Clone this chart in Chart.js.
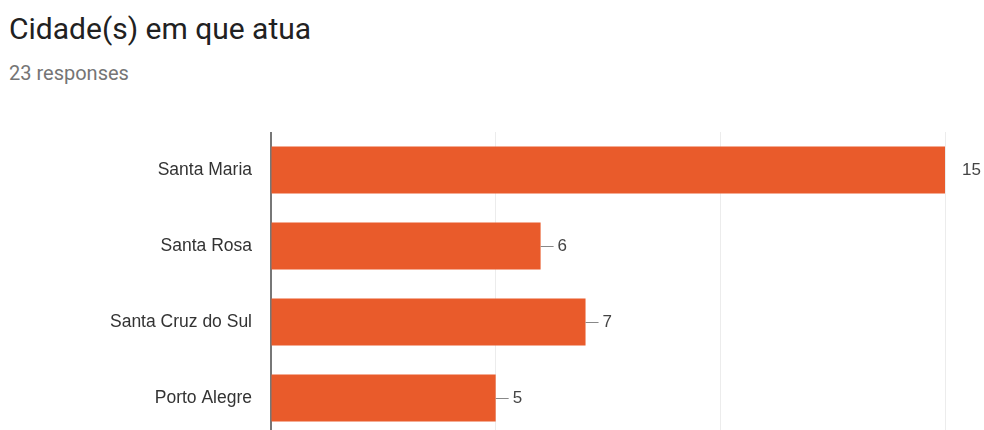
<!DOCTYPE html>
<html>
<head>
<meta charset="utf-8">
<script src="https://cdn.jsdelivr.net/npm/chart.js@4"></script>
<style>
  html, body { margin: 0; padding: 0; background: #fff; overflow: hidden; width: 984px; height: 430px; }
  #title { position: absolute; left: 9px; top: 11px; font-family: Roboto, sans-serif; font-size: 30px; color: #212121; }
  #sub { position: absolute; left: 9px; top: 61px; font-family: Roboto, sans-serif; font-size: 20px; color: #757575; }
  #chart { position: absolute; left: 0; top: 132px; }
</style>
</head>
<body>
<div id="title">Cidade(s) em que atua</div>
<div id="sub">23 responses</div>
<canvas id="chart" width="984" height="304"></canvas>
<script>
const cities = ["Santa Maria", "Santa Rosa", "Santa Cruz do Sul", "Porto Alegre"];
const counts = [15, 6, 7, 5];
const xTicks = [0, 5, 10, 15];

// value labels with a short leader line, like the forms chart
const valueLabels = {
  id: "valueLabels",
  afterDatasetsDraw(chart) {
    const ctx = chart.ctx;
    const meta = chart.getDatasetMeta(0);
    ctx.save();
    ctx.font = "17px 'Liberation Sans', Arial, sans-serif";
    ctx.fillStyle = "#444";
    ctx.textBaseline = "middle";
    meta.data.forEach((bar, i) => {
      let end = bar.x;
      if (end < chart.chartArea.right - 1) {
        ctx.strokeStyle = "#888";
        ctx.lineWidth = 1;
        ctx.beginPath();
        ctx.moveTo(end, bar.y + 0.5);
        ctx.lineTo(end + 13, bar.y + 0.5);
        ctx.stroke();
      }
      ctx.fillText(String(counts[i]), end + 17, bar.y);
    });
    ctx.restore();
  }
};

new Chart(document.getElementById("chart"), {
  type: "bar",
  data: {
    labels: cities,
    datasets: [{
      data: counts,
      backgroundColor: "#e95b2b",
      barPercentage: 0.62,
      categoryPercentage: 1
    }]
  },
  options: {
    indexAxis: "y",
    responsive: false,
    animation: false,
    layout: { padding: { left: 0, right: 39, top: 0, bottom: 0 } },
    plugins: { legend: { display: false }, tooltip: { enabled: false } },
    scales: {
      x: {
        min: 0,
        max: 15,
        afterBuildTicks: (axis) => { axis.ticks = xTicks.map(v => ({ value: v })); },
        afterFit: (axis) => { axis.height = 0; },
        ticks: { display: false },
        grid: { color: "#ececec", drawTicks: false },
        border: { display: false }
      },
      y: {
        afterFit: (axis) => {
          axis.width = 271;
          axis.paddingTop = 0;
          axis.paddingBottom = 0;
        },
        ticks: {
          padding: 19,
          color: "#333",
          font: { family: "'Liberation Sans', Arial, sans-serif", size: 17.5 }
        },
        grid: { display: false, drawTicks: false },
        border: { color: "#777", width: 2 }
      }
    }
  },
  plugins: [valueLabels]
});
</script>
</body>
</html>
